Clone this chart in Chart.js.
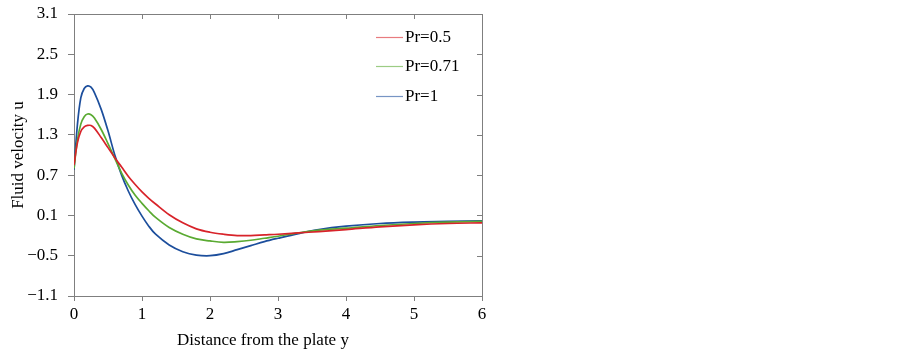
<!DOCTYPE html>
<html>
<head>
<meta charset="utf-8">
<script src="https://cdn.jsdelivr.net/npm/chart.js@4/dist/chart.umd.min.js"></script>
<style>
    html, body { margin: 0; padding: 0; background: #fff; }
    #wrap { width: 903px; height: 355px; position: relative; }
</style>
</head>
<body>
<div id="wrap"><canvas id="velocityChart"></canvas></div>
<script>
// distance from the plate (x axis)
const distances = [0, 0.05, 0.1, 0.15, 0.2, 0.25, 0.3, 0.4, 0.5, 0.6, 0.7, 0.8, 0.9, 1.0, 1.1, 1.2,
    1.4, 1.6, 1.8, 2.0, 2.2, 2.4, 2.6, 2.8, 3.0, 3.3, 3.6, 4.0, 4.5, 5.0, 5.5, 6.0];

// fluid velocity for each Prandtl number
const velPr05 = [0.85, 1.18, 1.35, 1.42, 1.44, 1.44, 1.40, 1.26, 1.11, 0.96, 0.82, 0.68, 0.56, 0.45, 0.355, 0.27,
    0.11, -0.01, -0.10, -0.15, -0.18, -0.20, -0.20, -0.19, -0.18, -0.16, -0.14, -0.11, -0.07, -0.04, -0.02, -0.01];
const velPr071 = [0.80, 1.22, 1.46, 1.57, 1.61, 1.60, 1.55, 1.38, 1.17, 0.95, 0.73, 0.55, 0.40, 0.28, 0.17, 0.07,
    -0.08, -0.18, -0.25, -0.28, -0.30, -0.29, -0.27, -0.24, -0.21, -0.16, -0.12, -0.09, -0.05, -0.02, 0.00, 0.01];
const velPr1 = [0.78, 1.45, 1.85, 1.99, 2.03, 2.01, 1.93, 1.68, 1.36, 1.00, 0.70, 0.46, 0.26, 0.09, -0.06, -0.18,
    -0.34, -0.44, -0.49, -0.50, -0.47, -0.41, -0.35, -0.29, -0.24, -0.17, -0.11, -0.06, -0.02, 0.00, 0.01, 0.02];

const seriesLabels = ["Pr=0.5", "Pr=0.71", "Pr=1"];
const xTicks = [0, 1, 2, 3, 4, 5, 6];
const yTicks = [-1.1, -0.5, 0.1, 0.7, 1.3, 1.9, 2.5, 3.1];

const colors = {
    red: "#d8232a",
    green: "#5aaa32",
    blue: "#1c4e9c",
    axis: "#7f7f7f",
    text: "#000000",
};
const lineColors = [colors.red, colors.green, colors.blue];
const serif = "'Liberation Serif', 'Times New Roman', serif";

function toPoints(ys) {
    return distances.map((x, i) => ({ x: x, y: ys[i] }));
}

function fmt(v) {
    const s = (Math.round(v * 10) / 10).toString();
    return s.replace("-", "\u2212");
}

// top/right frame with inward ticks, x title and legend in the upper right
const framePlugin = {
    id: "frame",
    afterDraw(chart) {
        const ctx = chart.ctx;
        const area = chart.chartArea;
        const xs = chart.scales.x;
        const ys = chart.scales.y;
        ctx.save();
        ctx.strokeStyle = colors.axis;
        ctx.lineWidth = 1;
        ctx.beginPath();
        ctx.moveTo(area.left, area.top + 0.5);
        ctx.lineTo(area.right + 0.5, area.top + 0.5);
        ctx.lineTo(area.right + 0.5, area.bottom);
        xTicks.forEach((t) => {
            const px = Math.round(xs.getPixelForValue(t)) + 0.5;
            ctx.moveTo(px, area.top);
            ctx.lineTo(px, area.top + 5);
        });
        yTicks.forEach((t) => {
            const py = Math.round(ys.getPixelForValue(t)) + 0.5;
            ctx.moveTo(area.right, py);
            ctx.lineTo(area.right - 5, py);
        });
        ctx.stroke();

        ctx.font = "17px " + serif;
        ctx.fillStyle = colors.text;
        ctx.textAlign = "center";
        ctx.textBaseline = "middle";
        ctx.fillText("Distance from the plate y", 263, 341);

        // legend
        const rows = [37, 66, 96];
        ctx.textAlign = "left";
        seriesLabels.forEach((label, i) => {
            ctx.strokeStyle = lineColors[i];
            ctx.globalAlpha = 0.6;
            ctx.lineWidth = 1.2;
            ctx.beginPath();
            ctx.moveTo(376, rows[i] + 0.5);
            ctx.lineTo(403, rows[i] + 0.5);
            ctx.stroke();
            ctx.globalAlpha = 1;
            ctx.fillStyle = colors.text;
            ctx.fillText(label, 405, rows[i] + 1);
        });
        ctx.restore();
    },
};

const velocityCanvas = document.getElementById("velocityChart");
if (velocityCanvas) {
    const velocityCtx = velocityCanvas.getContext("2d");
    const lineStyle = { borderWidth: 1.7, pointRadius: 0, tension: 0.35, fill: false };
    new Chart(velocityCtx, {
        type: "line",
        data: {
            datasets: [
                Object.assign({ label: seriesLabels[0], data: toPoints(velPr05), borderColor: lineColors[0] }, lineStyle),
                Object.assign({ label: seriesLabels[1], data: toPoints(velPr071), borderColor: lineColors[1] }, lineStyle),
                Object.assign({ label: seriesLabels[2], data: toPoints(velPr1), borderColor: lineColors[2] }, lineStyle),
            ],
        },
        options: {
            responsive: true,
            maintainAspectRatio: false,
            animation: false,
            layout: {
                padding: { left: 0, right: 421, top: 14, bottom: 0 },
            },
            plugins: {
                legend: { display: false },
                tooltip: { enabled: false },
            },
            scales: {
                x: {
                    type: "linear",
                    min: 0,
                    max: 6,
                    afterBuildTicks: (scale) => {
                        scale.ticks = xTicks.map((v) => ({ value: v }));
                    },
                    afterFit: (scale) => {
                        scale.height = 59;
                        scale.paddingLeft = 0;
                        scale.paddingRight = 0;
                    },
                    ticks: {
                        color: colors.text,
                        padding: 3,
                        maxRotation: 0,
                        font: { size: 17, family: serif },
                        callback: (v) => fmt(v),
                    },
                    grid: {
                        drawOnChartArea: false,
                        tickLength: 5,
                        color: colors.axis,
                    },
                    border: { color: colors.axis },
                },
                y: {
                    type: "linear",
                    min: -1.1,
                    max: 3.1,
                    afterBuildTicks: (scale) => {
                        scale.ticks = yTicks.map((v) => ({ value: v }));
                    },
                    afterFit: (scale) => {
                        scale.width = 74;
                        scale.paddingTop = 0;
                        scale.paddingBottom = 0;
                    },
                    ticks: {
                        color: colors.text,
                        padding: 10,
                        font: { size: 17, family: serif },
                        callback: (v) => fmt(v),
                    },
                    grid: {
                        drawOnChartArea: false,
                        tickLength: 6,
                        color: colors.axis,
                    },
                    border: { color: colors.axis },
                    title: {
                        display: true,
                        text: "Fluid velocity u",
                        color: colors.text,
                        font: { size: 17, family: serif },
                        padding: { top: 8, bottom: 0 },
                    },
                },
            },
        },
        plugins: [framePlugin],
    });
} else {
    console.error("velocityChart element not found");
}
</script>
</body>
</html>
